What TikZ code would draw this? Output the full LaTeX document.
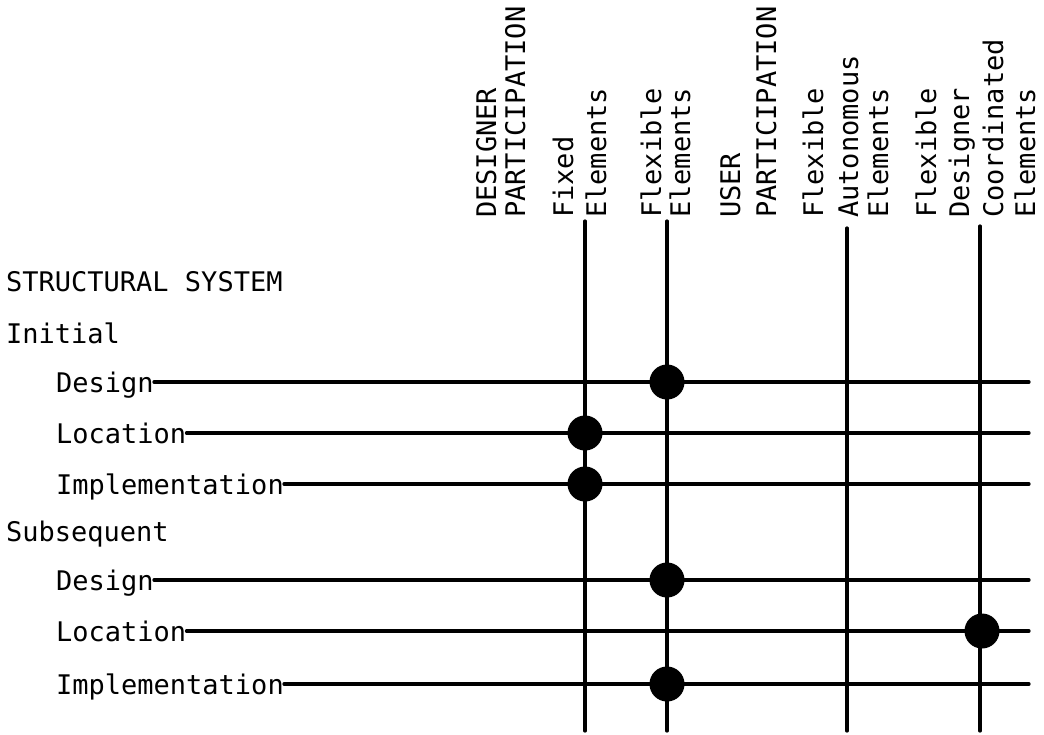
\documentclass[tikz,border=0pt]{standalone}
\usepackage{fontspec}
\newfontfamily\plotfont{DejaVu Sans Mono}
\begin{document}
\begin{tikzpicture}[x=1pt,y=-1pt,
  txt/.style={font=\plotfont\fontsize{27}{30}\selectfont, inner sep=0pt},
  lbl/.style={txt, text height=20pt, text depth=0pt, anchor=west},
  hdr/.style={txt, rotate=90, anchor=base west},
  rule/.style={line width=3.2pt, line cap=round},
  dot/.style={circle, fill=black, minimum size=35pt, inner sep=0pt}]
\useasboundingbox (0,0) rectangle (1044,734);

% column headers
\node[hdr] (h1) at (496,218) {DESIGNER};
\node[hdr] (h2) at (525,218) {PARTICIPATION};
\node[hdr] (h3) at (573,218) {Fixed};
\node[hdr] (h4) at (606,218) {Elements};
\node[hdr] (h5) at (661,218) {Flexible};
\node[hdr] (h6) at (690,218) {Elements};
\node[hdr] (h7) at (740,218) {USER};
\node[hdr] (h8) at (776,218) {PARTICIPATION};
\node[hdr] (h9) at (823,218) {Flexible};
\node[hdr] (h10) at (858,218) {Autonomous};
\node[hdr] (h11) at (888,218) {Elements};
\node[hdr] (h12) at (936,218) {Flexible};
\node[hdr] (h13) at (969,218) {Designer};
\node[hdr] (h14) at (1003,218) {Coordinated};
\node[hdr] (h15) at (1035,218) {Elements};

% vertical lines
\coordinate (c1t) at (585,221); \coordinate (c1b) at (585,731);
\coordinate (c2t) at (667,221); \coordinate (c2b) at (667,731);
\coordinate (c3t) at (847,228); \coordinate (c3b) at (847,731);
\coordinate (c4t) at (980,226); \coordinate (c4b) at (980,731);
\draw[rule] (c1t) -- (c1b);
\draw[rule] (c2t) -- (c2b);
\draw[rule] (c3t) -- (c3b);
\draw[rule] (c4t) -- (c4b);

% row labels
\node[lbl] (ss) at (6,281) {STRUCTURAL SYSTEM};
\node[lbl] (ini) at (6,333) {Initial};
\node[lbl] (r1) at (56,382) {Design};
\node[lbl] (r2) at (56,433) {Location};
\node[lbl] (r3) at (56,484) {Implementation};
\node[lbl] (sub) at (6,531) {Subsequent};
\node[lbl] (r4) at (56,580) {Design};
\node[lbl] (r5) at (56,631) {Location};
\node[lbl] (r6) at (56,684) {Implementation};

\coordinate (e1) at (1029,382);
\coordinate (e2) at (1029,433);
\coordinate (e3) at (1029,484);
\coordinate (e4) at (1029,580);
\coordinate (e5) at (1029,631);
\coordinate (e6) at (1029,684);
\draw[rule] (r1.east) -- (e1);
\draw[rule] (r2.east) -- (e2);
\draw[rule] (r3.east) -- (e3);
\draw[rule] (r4.east) -- (e4);
\draw[rule] (r5.east) -- (e5);
\draw[rule] (r6.east) -- (e6);

% dots
\node[dot] (k1) at (667,382) {};
\node[dot] (k2) at (585,433) {};
\node[dot] (k3) at (585,484) {};
\node[dot] (k4) at (667,580) {};
\node[dot] (k5) at (982,631) {};
\node[dot] (k6) at (667,684) {};
\end{tikzpicture}
\end{document}
